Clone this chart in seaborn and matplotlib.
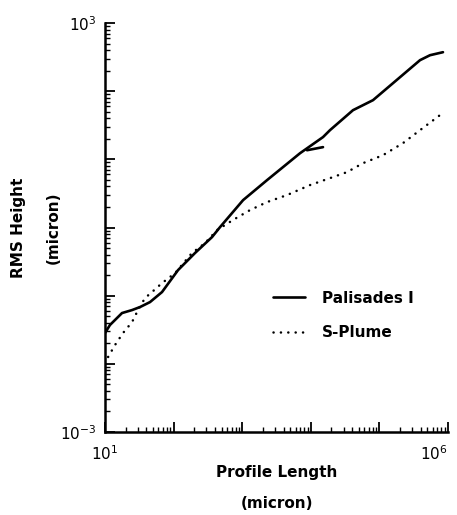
import matplotlib
matplotlib.use("Agg")
import matplotlib.pyplot as plt
import numpy as np
import pandas as pd
import seaborn as sns
from matplotlib.ticker import LogLocator, FuncFormatter, NullFormatter

# ---- data ----
pal_length = [10, 11.8, 17.7, 24.8, 32.4, 45.3, 67.8, 116, 205, 363, 474, 1030,
              2300, 6970, 15070, 19050, 41200, 80700, 157800, 391000, 547000, 845000]
pal_rms = [0.0283, 0.0371, 0.0556, 0.0615, 0.0681, 0.0805, 0.113, 0.237, 0.422,
           0.723, 1.01, 2.52, 4.95, 12.3, 21.2, 26.8, 52.6, 73.8, 131, 285, 337, 373]
spur_length = [8810, 15070]
spur_rms = [13.6, 15.1]
sp_length = [11.1, 14.0, 18.3, 24.8, 30.3, 38.3, 48.4, 67.8, 105, 185, 287, 430,
             735, 1300, 2300, 4500, 9730, 19050, 33700, 57700, 112700, 220800,
             391000, 763800]
sp_rms = [0.0126, 0.0189, 0.0283, 0.0410, 0.0615, 0.0923, 0.113, 0.153, 0.214,
          0.422, 0.590, 0.916, 1.29, 1.80, 2.36, 2.99, 4.19, 5.30, 6.49, 8.79,
          11.5, 17.3, 26.8, 44.5]
series_names = ["Palisades I", "S-Plume"]

sns.set_style("ticks")
plt.rcParams["font.family"] = ["DejaVu Sans"]
plt.rcParams["text.color"] = "black"
plt.rcParams["axes.labelcolor"] = "black"
plt.rcParams["xtick.color"] = "black"
plt.rcParams["ytick.color"] = "black"

fig = plt.figure(figsize=(4.57, 5.15), dpi=100)
ax = fig.add_axes([105 / 457, 1 - 432 / 515, 343 / 457, 409 / 515])

df_pal = pd.DataFrame({"length": pal_length, "rms": pal_rms})
df_sp = pd.DataFrame({"length": sp_length, "rms": sp_rms})
df_spur = pd.DataFrame({"length": spur_length, "rms": spur_rms})

sns.lineplot(data=df_pal, x="length", y="rms", ax=ax, color="black",
             linewidth=1.9, label=series_names[0])
sns.lineplot(data=df_spur, x="length", y="rms", ax=ax, color="black",
             linewidth=1.9, legend=False)
sns.lineplot(data=df_sp, x="length", y="rms", ax=ax, color="black",
             linewidth=1.8, linestyle=(0, (0.05, 2.9)), label=series_names[1])
for ln in ax.lines:
    ln.set_dash_capstyle("round")
    ln.set_solid_capstyle("round")

ax.set_xscale("log")
ax.set_yscale("log")
ax.set_xlim(10, 1e6)
ax.set_ylim(1e-3, 1e3)

ax.xaxis.set_major_locator(LogLocator(base=10, numticks=20))
ax.yaxis.set_major_locator(LogLocator(base=10, numticks=20))
ax.xaxis.set_minor_locator(LogLocator(base=10, subs=np.arange(2, 10), numticks=100))
ax.yaxis.set_minor_locator(LogLocator(base=10, subs=np.arange(2, 10), numticks=100))

def xfmt(v, pos):
    e = int(round(np.log10(v)))
    return r"$\mathregular{10^{%d}}$" % e if e in (1, 6) else ""

def yfmt(v, pos):
    e = int(round(np.log10(v)))
    return r"$\mathregular{10^{%d}}$" % e if e in (-3, 3) else ""

ax.xaxis.set_major_formatter(FuncFormatter(xfmt))
ax.yaxis.set_major_formatter(FuncFormatter(yfmt))
ax.xaxis.set_minor_formatter(NullFormatter())
ax.yaxis.set_minor_formatter(NullFormatter())

ax.tick_params(which="major", direction="in", length=7, width=1.3,
               labelsize=11, pad=6, colors="black")
ax.tick_params(axis="x", which="major", pad=9)
ax.tick_params(which="minor", direction="in", length=3.5, width=1.0, colors="black")

for s in ["top", "right"]:
    ax.spines[s].set_visible(False)
for s in ["left", "bottom"]:
    ax.spines[s].set_linewidth(1.8)
    ax.spines[s].set_color("black")

ax.set_xlabel("Profile Length\n(micron)", fontsize=11, fontweight="bold",
              labelpad=1, linespacing=2.4)
ax.set_ylabel("RMS Height\n(micron)", fontsize=11, fontweight="bold",
              labelpad=0, linespacing=2.6)

leg = ax.legend(loc="center left", bbox_to_anchor=(0.45, 0.285), frameon=False,
                fontsize=11, handlelength=2.1, labelspacing=1.3, handletextpad=1.1)
for t in leg.get_texts():
    t.set_fontweight("bold")
    t.set_color("black")

fig.canvas.draw()
for lbl in ax.get_xticklabels():
    if "{6}" in lbl.get_text():
        lbl.set_horizontalalignment("right")

fig.savefig("out.png", dpi=100, facecolor="white")
